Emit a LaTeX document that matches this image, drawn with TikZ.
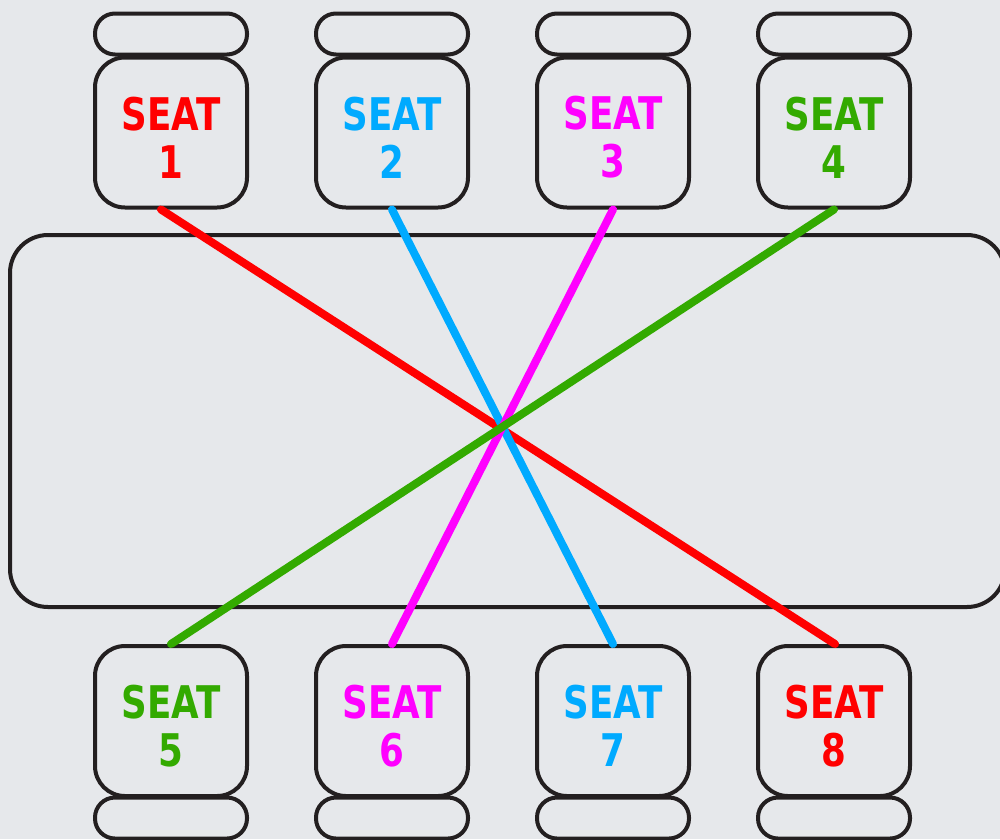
\documentclass[tikz,border=0pt]{standalone}
\usepackage{fontspec}
\newfontfamily\seatfont{DejaVu Sans Condensed}[BoldFont={DejaVu Sans Condensed Bold}, BoldFeatures={FakeStretch=0.88}]
\definecolor{bg}{HTML}{E6E8EB}
\definecolor{outline}{HTML}{231F20}
\definecolor{cred}{HTML}{FF0000}
\definecolor{cblue}{HTML}{00AAFF}
\definecolor{cmag}{HTML}{FF00FF}
\definecolor{cgreen}{HTML}{33AA00}
\tikzset{
  seatbox/.style={draw=outline, line width=4pt, rounded corners=30pt, minimum width=152pt, minimum height=150pt, inner sep=0pt},
  seatlabel/.style={inner sep=0pt, align=center, font=\seatfont\bfseries\fontsize{45}{48}\selectfont},
  backrest/.style={draw=outline, line width=4pt, rounded corners=20pt, minimum width=152pt, minimum height=41pt, inner sep=0pt},
  tablebox/.style={draw=outline, line width=4pt, rounded corners=38pt, minimum width=995pt, minimum height=372pt, inner sep=0pt},
  link/.style={line width=8pt, line cap=round}
}
\begin{document}
\begin{tikzpicture}[x=1pt,y=-1pt]
\fill[bg] (0,0) rectangle (1000,839);
\useasboundingbox (0,0) rectangle (1000,839);
\clip (0,0) rectangle (1000,839);
\node[tablebox] (table) at (507.5,421) {};
% top seats
\node[backrest] (b1) at (171,34) {};
\node[backrest] (b2) at (392,34) {};
\node[backrest] (b3) at (613,34) {};
\node[backrest] (b4) at (834,34) {};
\node[seatbox] (s1) at (171,132.5) {};
\node[seatbox] (s2) at (392,132.5) {};
\node[seatbox] (s3) at (613,132.5) {};
\node[seatbox] (s4) at (834,132.5) {};
% bottom seats
\node[seatbox] (s5) at (171,721) {};
\node[seatbox] (s6) at (392,721) {};
\node[seatbox] (s7) at (613,721) {};
\node[seatbox] (s8) at (834,721) {};
\node[backrest] (b5) at (171,818) {};
\node[backrest] (b6) at (392,818) {};
\node[backrest] (b7) at (613,818) {};
\node[backrest] (b8) at (834,818) {};
% labels
\node[seatlabel, text=cred]   (t1) at ([yshift=-5pt]s1.center) {SEAT\\1};
\node[seatlabel, text=cblue]  (t2) at ([yshift=-5pt]s2.center) {SEAT\\2};
\node[seatlabel, text=cmag]   (t3) at ([yshift=-5pt]s3.center) {SEAT\\3};
\node[seatlabel, text=cgreen] (t4) at ([yshift=-5pt]s4.center) {SEAT\\4};
\node[seatlabel, text=cgreen] (t5) at ([yshift=-5pt]s5.center) {SEAT\\5};
\node[seatlabel, text=cmag]   (t6) at ([yshift=-5pt]s6.center) {SEAT\\6};
\node[seatlabel, text=cblue]  (t7) at ([yshift=-5pt]s7.center) {SEAT\\7};
\node[seatlabel, text=cred]   (t8) at ([yshift=-5pt]s8.center) {SEAT\\8};
% links
\draw[link, cred] ([xshift=-10pt]s1.south) -- ([xshift=1pt]s8.north);
\draw[link, cblue] (s2.south) -- (s7.north);
\draw[link, cmag] (s3.south) -- (s6.north);
\draw[link, cgreen] (s4.south) -- (s5.north);
\end{tikzpicture}
\end{document}
